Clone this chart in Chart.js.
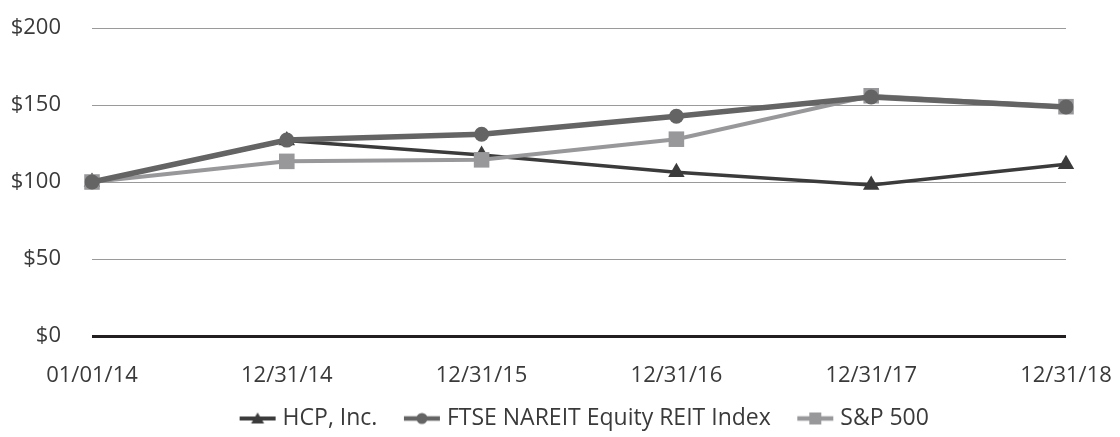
<!DOCTYPE html>
<html>
<head>
<meta charset="utf-8">
<script src="https://cdn.jsdelivr.net/npm/chart.js@4.4.1/dist/chart.umd.min.js"></script>
<style>
  html, body { margin: 0; padding: 0; background: #fff; }
  #wrap { width: 1120px; height: 437px; }
</style>
</head>
<body>
<div id="wrap"><canvas id="chart"></canvas></div>
<script>
// values (index, $100 base)
const dates = ['01/01/14', '12/31/14', '12/31/15', '12/31/16', '12/31/17', '12/31/18'];
const hcp = [100, 127, 117.5, 106.4, 98, 111.6];
const ftse = [100, 127.2, 131, 142.7, 155.2, 148.7];
const sp500 = [100, 113.4, 114.4, 127.8, 156, 148.9];
const yTicks = [0, 50, 100, 150, 200];

const FONT = "'Open Sans', 'Noto Sans', sans-serif";
const TEXT = '#3a3a3a';

// line + marker icons for the legend (drawn at the right end of a wider canvas
// so the gap between legend items gets a bit larger)
function legendIcon(color, lineW, shape) {
  const c = document.createElement('canvas');
  c.width = 53; c.height = 16;
  const g = c.getContext('2d');
  const x0 = 16, mid = x0 + 18;
  g.strokeStyle = color;
  g.fillStyle = color;
  g.lineWidth = lineW;
  g.beginPath(); g.moveTo(x0, 8); g.lineTo(x0 + 36, 8); g.stroke();
  g.beginPath();
  if (shape === 'triangle') {
    g.moveTo(mid, 2); g.lineTo(mid + 6.5, 13); g.lineTo(mid - 6.5, 13); g.closePath();
  } else if (shape === 'circle') {
    g.arc(mid, 8, 5.5, 0, Math.PI * 2);
  } else {
    g.rect(mid - 6, 2, 12, 12);
  }
  g.fill();
  return c;
}

const icons = [
  legendIcon('#3b3b3b', 4, 'triangle'),
  legendIcon('#646464', 4.5, 'circle'),
  legendIcon('#98989b', 4.5, 'rect')
];

const ctx = document.getElementById('chart').getContext('2d');
new Chart(ctx, {
  type: 'line',
  data: {
    labels: dates,
    datasets: [
      {
        label: 'HCP, Inc.',
        data: hcp,
        borderColor: '#3b3b3b',
        backgroundColor: '#3b3b3b',
        borderWidth: 3.5,
        pointStyle: 'triangle',
        pointRadius: 9.5,
        pointBorderWidth: 0,
        order: 2
      },
      {
        label: 'FTSE NAREIT Equity REIT Index',
        data: ftse,
        borderColor: '#646464',
        backgroundColor: '#646464',
        borderWidth: 5.5,
        pointStyle: 'circle',
        pointRadius: 7.5,
        pointBorderWidth: 0,
        order: 0
      },
      {
        label: 'S&P 500',
        data: sp500,
        borderColor: '#98989b',
        backgroundColor: '#98989b',
        borderWidth: 4,
        pointStyle: 'rect',
        pointRadius: 11,
        pointBorderWidth: 0,
        order: 1
      }
    ]
  },
  options: {
    responsive: true,
    maintainAspectRatio: false,
    animation: false,
    layout: {
      padding: { top: 28, left: 0, right: 54, bottom: 0 }
    },
    scales: {
      x: {
        grid: { display: false, drawTicks: false },
        border: { display: false },
        ticks: {
          color: TEXT,
          font: { family: FONT, size: 22 },
          padding: 27,
          maxRotation: 0,
          autoSkip: false
        },
        afterFit: (scale) => {
          scale.height = 55;
          scale.paddingLeft = 0;
          scale.paddingRight = 0;
        }
      },
      y: {
        min: 0,
        max: 200,
        afterBuildTicks: (scale) => { scale.ticks = yTicks.map(v => ({ value: v })); },
        grid: {
          drawTicks: false,
          color: (c) => c.tick && c.tick.value === 0 ? '#231f20' : '#9a9a9a',
          lineWidth: (c) => c.tick && c.tick.value === 0 ? 3 : 1
        },
        border: { display: false },
        ticks: {
          color: TEXT,
          font: { family: FONT, size: 22 },
          padding: 31,
          callback: (v) => '$' + v
        },
        afterFit: (scale) => {
          scale.width = 92;
          scale.paddingTop = 0;
          scale.paddingBottom = 0;
        }
      }
    },
    plugins: {
      tooltip: { enabled: false },
      legend: {
        position: 'bottom',
        fullSize: false,
        maxHeight: 46,
        labels: {
          usePointStyle: true,
          pointStyleWidth: 42,
          padding: 16,
          color: TEXT,
          font: { family: FONT, size: 23 },
          generateLabels: (chart) => chart.data.datasets.map((ds, i) => ({
            text: ds.label,
            pointStyle: icons[i],
            fillStyle: ds.borderColor,
            strokeStyle: ds.borderColor,
            fontColor: TEXT,
            lineWidth: 0,
            hidden: false,
            datasetIndex: i
          }))
        }
      }
    }
  }
});
</script>
</body>
</html>
